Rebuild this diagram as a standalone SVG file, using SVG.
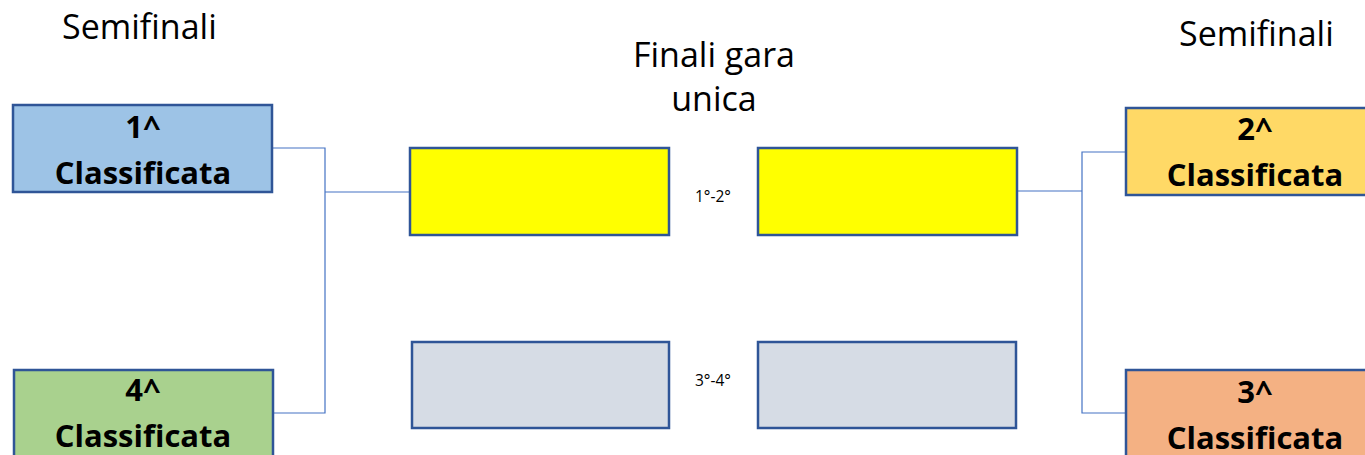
<svg xmlns="http://www.w3.org/2000/svg" width="1365" height="455" viewBox="0 0 1365 455">
<style>
.box{stroke:#2F5597;stroke-width:2.5}
.title{font-family:"Open Sans","Liberation Sans",sans-serif;font-size:34px;fill:#000}
.lbl{font-family:"Open Sans","Liberation Sans",sans-serif;font-size:31px;font-weight:bold;fill:#000;text-anchor:middle}
.small{font-family:"Open Sans","Liberation Sans",sans-serif;font-size:15.5px;fill:#000}
.conn{fill:none;stroke:#4472C4;stroke-width:1.2}
</style>
<rect width="1365" height="455" fill="#fff"/>
<text class="title" x="62" y="39">Semifinali</text>
<text class="title" x="1179" y="46">Semifinali</text>
<text class="title" x="714" y="67" text-anchor="middle">Finali gara</text>
<text class="title" x="714" y="111" text-anchor="middle">unica</text>
<g id="connectors">
<path class="conn" d="M273,148 H325 V413 H274"/>
<path class="conn" d="M325,192 H410"/>
<path class="conn" d="M1017,191 H1082"/>
<path class="conn" d="M1126,152 H1082 V413 H1126"/>
</g>
<g id="n1">
<rect class="box" x="13" y="105" width="259" height="87" fill="#9DC3E6"/>
<text class="lbl" x="143" y="138">1^</text>
<text class="lbl" x="143" y="184">Classificata</text>
</g>
<g id="n4">
<rect class="box" x="14" y="370" width="259" height="100" fill="#A9D18E"/>
<text class="lbl" x="143" y="401">4^</text>
<text class="lbl" x="143" y="447">Classificata</text>
</g>
<g id="n2">
<rect class="box" x="1126" y="108" width="259" height="87" fill="#FFD966"/>
<text class="lbl" x="1255" y="140">2^</text>
<text class="lbl" x="1255" y="186">Classificata</text>
</g>
<g id="n3">
<rect class="box" x="1126" y="370" width="259" height="100" fill="#F4B183"/>
<text class="lbl" x="1255" y="403">3^</text>
<text class="lbl" x="1255" y="449">Classificata</text>
</g>
<g id="f1a">
<rect class="box" x="410" y="148" width="259" height="87" fill="#FFFF00"/>
</g>
<g id="f1b">
<rect class="box" x="758" y="148" width="259" height="87" fill="#FFFF00"/>
</g>
<g id="f2a">
<rect class="box" x="412" y="342" width="257" height="86" fill="#D6DCE5"/>
</g>
<g id="f2b">
<rect class="box" x="758" y="342" width="258" height="86" fill="#D6DCE5"/>
</g>
<text class="small" x="695" y="202">1°-2°</text>
<text class="small" x="695" y="386">3°-4°</text>
</svg>
